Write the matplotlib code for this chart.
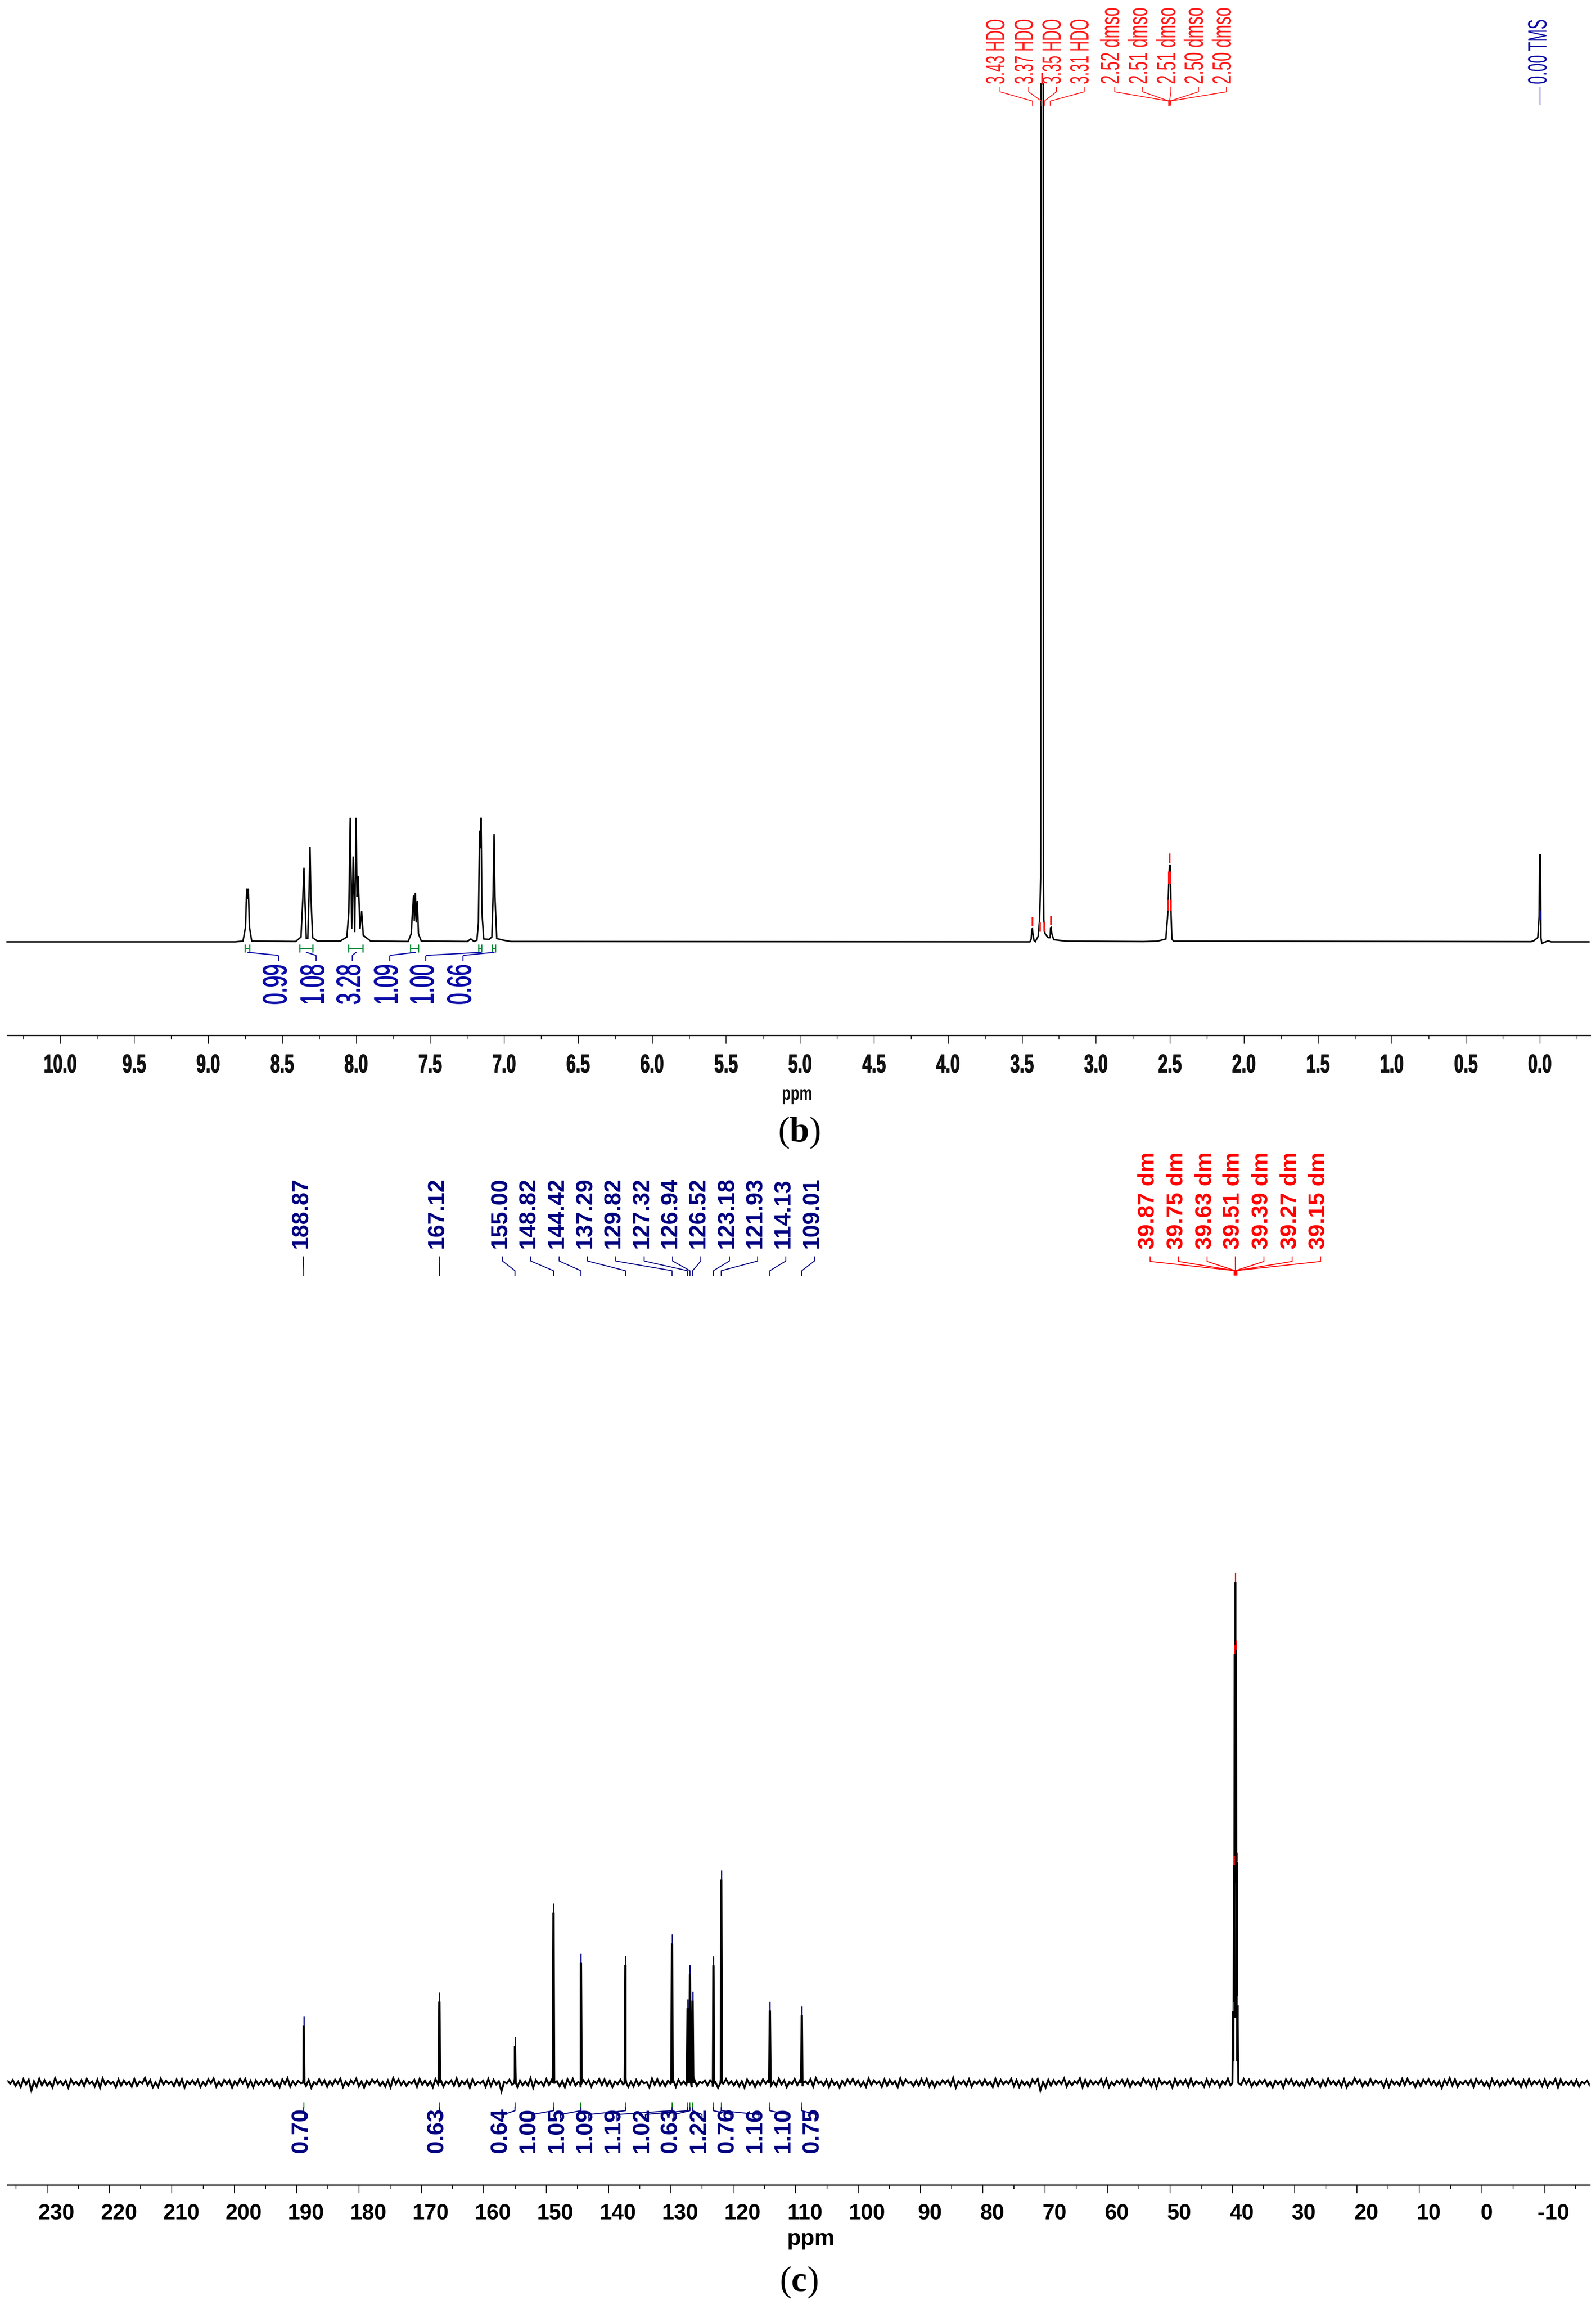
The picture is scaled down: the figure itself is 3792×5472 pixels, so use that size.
import numpy as np
import matplotlib
matplotlib.use("Agg")
import matplotlib.pyplot as plt
from matplotlib.path import Path
from matplotlib.patheffects import AbstractPathEffect
from matplotlib.transforms import Affine2D, IdentityTransform, Bbox

plt.rcParams['mathtext.fontset'] = 'custom'
plt.rcParams['mathtext.rm'] = 'Liberation Serif'
plt.rcParams['mathtext.bf'] = 'Liberation Serif:bold'

# ---------- panel b: 1H spectrum, vertices ----------
h1_ppm = [10.36, 8.818, 8.766, 8.749, 8.741, 8.736, 8.730, 8.722, 8.707, 8.410, 8.374, 8.361, 8.354, 8.348,
          8.338, 8.328, 8.320, 8.313, 8.307, 8.295, 8.263, 8.108, 8.064, 8.051, 8.041, 8.031, 8.021, 8.011,
          8.002, 7.995, 7.988, 7.975, 7.964, 7.953, 7.903, 7.650, 7.629, 7.621, 7.613, 7.608, 7.601, 7.595,
          7.588, 7.580, 7.561, 7.250, 7.226, 7.205, 7.185, 7.175, 7.167, 7.162, 7.157, 7.151, 7.139, 7.103,
          7.084, 7.076, 7.069, 7.063, 7.051, 7.005, 6.956, 3.448, 3.439, 3.435, 3.431, 3.428, 3.420, 3.411,
          3.392, 3.382, 3.375, 3.373, 3.358, 3.356, 3.354, 3.346, 3.325, 3.311, 3.308, 3.304, 3.300, 3.287,
          3.202, 2.680, 2.586, 2.529, 2.515, 2.508, 2.504, 2.498, 2.494, 2.488, 2.477, 0.060, 0.040, 0.015,
          0.006, 0.003, -0.003, -0.006, -0.012, -0.030, -0.055, -0.075, -0.33]
h1_int = [0.00, 0.00, 0.09, 1.69, 6.20, 5.00, 6.20, 1.69, 0.09, 0.04, 0.56, 5.26, 8.64, 5.26,
          0.38, 0.38, 5.26, 11.08, 5.26, 0.47, 0.09, 0.09, 0.56, 3.38, 14.46, 1.50, 9.95, 1.13,
          14.46, 5.26, 7.70, 1.50, 3.57, 0.75, 0.09, 0.04, 0.94, 3.38, 5.41, 2.44, 5.73, 2.25,
          4.79, 0.94, 0.09, 0.04, 0.34, 0.04, 0.19, 2.25, 12.96, 10.90, 14.46, 3.38, 0.34, 0.28,
          0.56, 5.26, 12.55, 5.26, 0.38, 0.19, 0.04, 0.00, 0.33, 1.47, 1.55, 0.98, 0.16, 0.03,
          0.65, 2.60, 7.50, 100.0, 100.0, 7.50, 2.60, 0.98, 0.49, 0.49, 1.64, 1.68, 0.98, 0.25,
          0.08, 0.03, 0.08, 0.33, 3.44, 7.50, 8.92, 8.92, 3.44, 0.33, 0.08, 0.02, 0.15, 0.50,
          3.00, 10.17, 10.17, 0.50, -0.20, -0.05, 0.12, 0.00, 0.00]

h1_ticks = [10.0, 9.5, 9.0, 8.5, 8.0, 7.5, 7.0, 6.5, 6.0, 5.5, 5.0, 4.5, 4.0, 3.5, 3.0, 2.5, 2.0, 1.5, 1.0, 0.5, 0.0]
h1_minor = [10.25, 9.75, 9.25, 8.75, 8.25, 7.75, 7.25, 6.75, 6.25, 5.75, 5.25, 4.75, 4.25, 3.75, 3.25, 2.75,
            2.25, 1.75, 1.25, 0.75, 0.25, -0.25]

h1_hdo_labels = ["3.43 HDO", "3.37 HDO", "3.35 HDO", "3.31 HDO"]
h1_hdo_ppm = [3.43, 3.37, 3.35, 3.31]
h1_dmso_labels = ["2.52 dmso", "2.51 dmso", "2.51 dmso", "2.50 dmso", "2.50 dmso"]
h1_dmso_ppm = [2.510, 2.507, 2.504, 2.502, 2.499]
h1_tms_label = "0.00 TMS"
h1_tms_ppm = 0.0

h1_int_labels = ["0.99", "1.08", "3.28", "1.09", "1.00", "0.66"]
h1_int_from = [8.754, 8.382, 8.052, 7.635, 7.175, 7.084]
h1_int_to = [8.721, 8.296, 7.956, 7.581, 7.153, 7.059]
h1_int_anchor = [8.732, 8.337, 8.002, 7.601, 7.157, 7.069]

# red / blue peak picks sitting on the 1H peaks: ppm, lower and upper intensity
h1_pick_ppm = [3.431, 3.305, 3.380, 3.352, 3.366, 2.504, 2.498, 2.510, 2.494, 2.514]
h1_pick_lo = [1.86, 1.96, 1.18, 1.18, 100.0, 9.20, 6.70, 6.70, 3.60, 3.60]
h1_pick_hi = [2.90, 3.04, 2.26, 2.26, 101.3, 10.30, 8.20, 8.20, 4.90, 4.90]

# ---------- panel c: 13C spectrum ----------
c13_labels = ["188.87", "167.12", "155.00", "148.82", "144.42", "137.29", "129.82", "127.32", "126.94", "126.52",
              "123.18", "121.93", "114.13", "109.01"]
c13_ppm = [188.87, 167.12, 155.00, 148.82, 144.42, 137.29, 129.82, 127.32, 126.94, 126.52, 123.18, 121.93,
           114.13, 109.01]
c13_int = [11.34, 16.07, 7.13, 33.80, 23.90, 23.36, 27.67, 14.76, 21.59, 16.26, 23.28, 40.44, 14.27, 13.33]
c13_integrals = ["0.70", "0.63", "0.64", "1.00", "1.05", "1.09", "1.19", "1.02", "0.63", "1.22", "0.76", "1.16",
                 "1.10", "0.75"]

sol_labels = ["39.87 dm", "39.75 dm", "39.63 dm", "39.51 dm", "39.39 dm", "39.27 dm", "39.15 dm"]
sol_ppm = [39.87, 39.75, 39.63, 39.51, 39.39, 39.27, 39.15]
sol_int = [14.25, 43.50, 85.60, 100.0, 86.50, 44.10, 15.50]
sol_valley_ppm = [39.98, 39.81, 39.69, 39.57, 39.45, 39.33, 39.21, 39.04]
sol_valley_int = [0.00, 4.40, 13.0, 40.0, 40.0, 13.0, 4.40, 0.00]

c13_ticks = [230, 220, 210, 200, 190, 180, 170, 160, 150, 140, 130, 120, 110, 100, 90, 80, 70, 60, 50, 40, 30, 20,
             10, 0, -10]
c13_minor = [235, 225, 215, 205, 195, 185, 175, 165, 155, 145, 135, 125, 115, 105, 95, 85, 75, 65, 55, 45, 35, 25,
             15, 5, -5, -15]

# baseline noise of panel c, left to right, in hundredths of intensity:
# the upward excursions and the downward excursions of the trace
c13_noise_up = [
 41, 56, 24, 73, 63, 31, 83, 51, 16, 95, 37, 44, 68, 21, 52, 80, 29, 63, 88, 39, 19, 69, 47, 24, 77,
 28, 99, 53, 12, 84, 44, 24, 65, 75, 35, 49, 57, 15, 73, 88, 23, 59, 51, 33, 81, 77, 40, 47, 27, 65,
 60, 19, 69, 92, 32, 41, 76, 57, 15, 72, 48, 36, 64, 83, 25, 52, 85, 29, 39, 67, 55, 20, 45, 97, 71,
 37, 21, 61, 80, 45, 31, 76, 59, 25, 49, 87, 36, 55, 67, 17, 43, 79, 61, 32, 20, 64, 84, 48, 28, 93,
 53, 23, 75, 60, 33, 40, 72, 81, 17, 51, 56, 35, 79, 69, 44, 27, 63, 89, 24, 57, 47, 16, 87, 73, 37,
 43, 59, 63, 29, 85, 68, 21, 51, 53, 13, 77, 76, 32, 41, 33, 65, 39, 35, 71, 57, 24, 83, 49, 19, 80,
 52, 31, 73, 96, 27, 56, 61, 20, 40, 68, 77, 45, 23, 84, 49, 28, 69, 59, 36, 91, 64, 16, 45, 75, 81,
 37, 25, 52, 55, 99, 32, 44, 71, 25, 48, 65, 20, 81, 60, 35, 80, 55, 39, 23, 67, 76, 16, 61, 51, 41,
 88, 29, 33, 93, 57, 47, 28, 72, 75, 19, 43, 64, 63, 36, 21, 87, 53, 51, 72, 27, 37, 79, 47, 57, 84,
 33, 15, 69, 65, 40, 31, 88, 56, 21, 77, 63, 24, 48, 59, 20, 44, 32, 68, 73, 35, 17, 52, 83, 27, 53,
 85, 39, 40, 67, 17, 92, 61, 28, 73, 49, 32, 60, 49, 24, 79, 80, 20, 43, 64, 71, 36, 35, 55, 95, 69,
 20, 45, 59, 81, 47, 25, 76, 41, 31, 60, 85, 29, 52, 75, 37, 48, 65, 23, 77, 67, 27, 39, 56, 19, 44,
]
c13_noise_down = [
 -16, -59, -81, -31, -157, -76, -47, -55, -88, -20, -39, -93, -25, -48, -64, -12, -69, -96, -36, -19, -84, -55, -27, -73, -61,
 -8, -44, -85, -77, -32, -15, -65, -49, -91, -23, -33, -79, -53, -7, -72, -57, -21, -93, -41, -9, -67, -87, -35, -51, -17,
 -63, -83, -25, -75, -43, -5, -61, -95, -28, -37, -76, -47, -13, -80, -52, -17, -67, -91, -32, -4, -57, -71, -89, -21, -40,
 -59, -11, -79, -36, -49, -84, -28, -71, -15, -56, -65, -23, -92, -45, -8, -75, -60, -29, -167, -9, -35, -80, -45, -53, -96,
 -20, -64, -40, -13, -69, -85, -33, -52, -89, -19, -73, -12, -43, -60, -81, -24, -29, -77, -68, -48, -7, -88, -37, -55, -63,
 -16, -76, -27, -39, -87, -59, -5, -47, -72, -97, -17, -24, -51, -67, -92, -36, -80, -41, -11, -56, -61, -31, -84, -21, -44,
 -68, -20, -72, -8, -53, -81, -32, -91, -49, -15, -35, -64, -75, -40, -13, -77, -57, -25, -87, -44, -4, -64, -51, -28, -69,
 -85, -35, -12, -52, -93, -23, -57, -73, -17, -48, -37, -81, -61, -28, -16, -63, -79, -41, -75, -11, -153, -91, -55, -32, -21,
 -71, -47, -8, -85, -67, -31, -25, -60, -83, -45, -13, -55, -79, -36, -52, -7, -65, -95, -24, -19, -89, -43, -33, -71, -56,
 -12, -73, -59, -19, -83, -29, -49, -77, -39, -21, -68, -48, -9, -61, -88, -27, -92, -15, -43, -63, -76, -40, -16, -80, -57,
 -24, -47, -69, -87, -33, -5, -67, -53, -36, -9, -80, -76, -29, -53, -45, -20, -84, -64, -17, -40, -60, -96, -27, -51, -72,
 -23, -39, -75, -13, -59, -87, -35, -69, -49, -12, -31, -81, -65, -44, -20, -63, -77, -25, -88, -41, -32, -56, -72, -11, -48,
]

# ---------- layout, in pixels of the output image ----------
W, H = 3792, 5472
DPI = 100
FS = 72.0 / DPI       # points per pixel

BLUE_B, RED_B, GREEN_B = '#0a0aa8', '#ff1a1a', '#109040'
NAVY, RED, GREEN = '#000080', '#ff0000', '#008000'
SANS = ['Liberation Sans']


class Condense(AbstractPathEffect):
    """Draws a text squeezed/stretched on screen (the reference font is a very narrow, tall one)."""

    def __init__(self, sx=1.0, sy=1.0, anchor='center', stroke=0.0):
        super().__init__()
        self.sx, self.sy, self.anchor, self.stroke = sx, sy, anchor, stroke

    def draw_path(self, renderer, gc, tpath, affine, rgbFace=None):
        v = affine.transform(tpath.vertices)
        cx0 = 0.5 * (v[:, 0].min() + v[:, 0].max())
        cy0 = v[:, 1].min() if self.anchor == 'bottom' else 0.5 * (v[:, 1].min() + v[:, 1].max())
        out = np.column_stack([cx0 + (v[:, 0] - cx0) * self.sx, cy0 + (v[:, 1] - cy0) * self.sy])
        gc0 = renderer.new_gc()
        gc0.copy_properties(gc)
        if self.stroke > 0:
            gc0.set_foreground(rgbFace)
            gc0.set_linewidth(self.stroke * FS)
        renderer.draw_path(gc0, Path(out, tpath.codes), IdentityTransform(), rgbFace)
        gc0.restore()


def condense(t, sx=1.0, sy=1.0, anchor='center', stroke=0.0):
    t.set_path_effects([Condense(sx, sy, anchor, stroke)])
    orig = t.get_window_extent

    def extent(renderer=None, dpi=None):
        b = orig(renderer, dpi)
        xc = 0.5 * (b.x0 + b.x1)
        yc = b.y0 if anchor == 'bottom' else 0.5 * (b.y0 + b.y1)
        return Bbox([[xc + (b.x0 - xc) * sx, yc + (b.y0 - yc) * sy],
                     [xc + (b.x1 - xc) * sx, yc + (b.y1 - yc) * sy]])

    t.get_window_extent = extent
    return t


def bx(px):
    return 10 - (np.asarray(px, float) - 143.5) / 351.55


def by(py):
    return (2237 - np.asarray(py, float)) / 2038 * 100


def cx(px):
    return 230 - (np.asarray(px, float) - 112) / 14.82


def cy(py):
    return (4947 - np.asarray(py, float)) / 1189 * 100


def px_of_bx(p):
    return 143.5 + (10 - p) * 351.55


fig = plt.figure(figsize=(W / DPI, H / DPI), dpi=DPI, facecolor='white')


def make_axes(left, right, top, bottom):
    ax = fig.add_axes([left / W, 1 - bottom / H, (right - left) / W, (bottom - top) / H])
    ax.patch.set_alpha(0)
    for s in ['top', 'left', 'right']:
        ax.spines[s].set_visible(False)
    ax.spines['bottom'].set_linewidth(3 * FS)
    ax.spines['bottom'].set_color('#111111')
    ax.set_yticks([])
    return ax


# ================= panel b =================
axb = make_axes(17, 3778, 0, 2459)
axb.set_xlim(bx(17), bx(3778))
axb.set_ylim(by(2459), by(0))
axb.plot(h1_ppm, h1_int, color='black', lw=3.5 * FS, solid_joinstyle='miter', clip_on=False, zorder=2)
axb.set_xticks(h1_ticks, [f"{t:.1f}" for t in h1_ticks])
axb.set_xticks(h1_minor, minor=True)
axb.tick_params(axis='x', which='major', length=20 * FS, width=2 * FS, color='#222222', pad=24 * FS)
axb.tick_params(axis='x', which='minor', length=10 * FS, width=2 * FS, color='#222222')
for lab in axb.get_xticklabels():
    lab.set_family(SANS)
    lab.set_fontweight('bold')
    lab.set_fontsize(61 * FS)
    lab.set_color('#111111')
    condense(lab, sx=0.66, stroke=1.5)

# red picks on peaks
axb.vlines(h1_pick_ppm, h1_pick_lo, h1_pick_hi, color=RED_B, lw=4 * FS, zorder=3)
axb.vlines([h1_tms_ppm], [2.5], [3.6], color=BLUE_B, lw=4 * FS, zorder=3)

# top annotation of the 1H peaks
hdo_label_px = [2368, 2436, 2502, 2568]
dmso_label_px = [2640.5, 2707, 2774, 2839.5, 2906]
for lab, p, lx in zip(h1_hdo_labels + h1_dmso_labels, h1_hdo_ppm + h1_dmso_ppm, hdo_label_px + dmso_label_px):
    t = axb.text(bx(lx), by(200), lab, rotation=90, ha='center', va='bottom', color=RED_B, family=SANS,
                 fontsize=42 * FS, clip_on=False)
    condense(t, sx=1.5, sy=0.83 if 'HDO' in lab else 0.93, anchor='bottom')
    tx = lx + 8
    axb.plot([bx(tx), bx(tx), p, p], by([207, 218, 240, 250]), color=RED_B, lw=2 * FS, clip_on=False)
t = axb.text(bx(3656), by(200), h1_tms_label, rotation=90, ha='center', va='bottom', color=BLUE_B, family=SANS,
             fontsize=42 * FS, clip_on=False)
condense(t, sx=1.5, sy=0.85, anchor='bottom')
axb.vlines([h1_tms_ppm], by(250), by(207), color=BLUE_B, lw=2 * FS)
axb.vlines([h1_dmso_ppm[2]], by(250), by(238), color=RED_B, lw=6 * FS)

# integrals of panel b
int_label_px = [660, 749, 835, 924, 1009.5, 1098]
for lab, a, b, anch, lx in zip(h1_int_labels, h1_int_from, h1_int_to, h1_int_anchor, int_label_px):
    t = axb.text(bx(lx), by(2386), lab, rotation=90, ha='center', va='bottom', color=BLUE_B, family=SANS,
                 fontsize=80 * FS, clip_on=False)
    condense(t, sy=0.615, anchor='bottom', stroke=1.5)
    axb.vlines([a, b], by(2262), by(2243), color=GREEN_B, lw=3 * FS)
    axb.hlines(by(2253), b, a, color=GREEN_B, lw=2.5 * FS)
    ex = lx + 2
    axb.plot([anch, bx(ex + (px_of_bx(anch) - ex) * 0.02), bx(ex), bx(ex)], by([2262, 2269, 2271, 2281]),
             color=BLUE_B, lw=2.5 * FS, clip_on=False)

t = axb.text(bx(1894), by(2600), 'ppm', ha='center', va='center', family=SANS, fontweight='bold',
             fontsize=48 * FS, color='#111111', clip_on=False)
condense(t, sx=0.71)
axb.text(bx(1898), by(2691), r'($\mathbf{b}$)', ha='center', va='center', family=['Liberation Serif'],
         fontsize=84 * FS, color='black', clip_on=False)

# ================= panel c =================
axc = make_axes(18, 3777, 2700, 5189)
axc.set_xlim(cx(18), cx(3777))
axc.set_ylim(cy(5189), cy(2700))

noise_ppm = np.linspace(float(cx(18)), float(cx(3777)), len(c13_noise_up) + len(c13_noise_down))
noise_int = np.column_stack([c13_noise_up, c13_noise_down]).ravel() / 100.0
keep = (noise_ppm > 40.05) | (noise_ppm < 39.0)
xs = [noise_ppm[keep]]
ys = [noise_int[keep]]
for p, h in zip(c13_ppm, c13_int):
    xs.append([p + 0.14, p + 0.03, p - 0.03, p - 0.14])
    ys.append([0.0, h, h, 0.0])
xs.append(sol_ppm)
ys.append(sol_int)
xs.append(sol_valley_ppm)
ys.append(sol_valley_int)
all_x = np.concatenate(xs)
all_y = np.concatenate(ys)
order = np.argsort(-all_x)
axc.plot(all_x[order], all_y[order], color='black', lw=4.5 * FS, solid_joinstyle='miter', clip_on=True, zorder=2)

axc.set_xticks(c13_ticks, [str(t) for t in c13_ticks])
axc.set_xticks(c13_minor, minor=True)
axc.tick_params(axis='x', which='major', length=20 * FS, width=2 * FS, color='black', pad=24 * FS)
axc.tick_params(axis='x', which='minor', length=10 * FS, width=2 * FS, color='black')
for lab, t in zip(axc.get_xticklabels(), c13_ticks):
    lab.set_family(SANS)
    lab.set_fontweight('bold')
    lab.set_fontsize(52 * FS)
    dx = 12 if t == 0 else 22
    lab.set_transform(lab.get_transform() + Affine2D().translate(dx, 0))

# blue peak marks above the peaks
mark_lo = [h + 0.15 for h in c13_int]
mark_hi = [h + 2.0 for h in c13_int]
axc.vlines(c13_ppm, mark_lo, mark_hi, color=NAVY, lw=3 * FS, zorder=3)
# red marks above the solvent lines
sol_lo = [h + 0.1 for h in sol_int]
sol_hi = [h + 1.9 for h in sol_int]
axc.vlines(sol_ppm, sol_lo, sol_hi, color=RED, lw=3 * FS, zorder=3)

# annotation columns of panel c
col_px = [721, 1043.7, 1194, 1261, 1328.5, 1396, 1463, 1530.5, 1598, 1665, 1733, 1800, 1867, 1935]
label_shift = 5
for lab, integ, p, lx in zip(c13_labels, c13_integrals, c13_ppm, col_px):
    xl = lx - label_shift
    axc.text(cx(xl), cy(2965), lab, rotation=90, ha='center', va='bottom', color=NAVY, family=SANS,
             fontweight='bold', fontsize=55 * FS, clip_on=False)
    axc.plot([cx(lx), cx(lx), p, p], cy([2985, 2995, 3018, 3029]), color=NAVY, lw=2.2 * FS, clip_on=False)
    axc.text(cx(xl), cy(5113), integ, rotation=90, ha='center', va='bottom', color=NAVY, family=SANS,
             fontweight='bold', fontsize=55 * FS, clip_on=False, zorder=4)
    axc.vlines([p], cy(5006), cy(4993), color=GREEN, lw=2.5 * FS)
    axc.plot([p, p, cx(lx + 3), cx(lx + 3)], cy([5006, 5013, 5022, 5030]), color=NAVY, lw=2.5 * FS,
             clip_on=False, zorder=5)

sol_col_px = [2732.6, 2800, 2868, 2935, 3003, 3070, 3137.5]
for lab, p, lx in zip(sol_labels, sol_ppm, sol_col_px):
    axc.text(cx(lx - 5), cy(2967), lab, rotation=90, ha='center', va='bottom', color=RED, family=SANS,
             fontweight='bold', fontsize=54 * FS, clip_on=False)
    axc.plot([cx(lx), cx(lx), sol_ppm[3]], cy([2985, 2996, 3018]), color=RED, lw=2.2 * FS, clip_on=False)
axc.vlines([sol_ppm[3]], cy(3029), cy(3017), color=RED, lw=9 * FS)

axc.text(cx(1926), cy(5318), 'ppm', ha='center', va='center', family=SANS, fontweight='bold',
         fontsize=54 * FS, color='black', clip_on=False)
axc.text(cx(1898), cy(5421), r'($\mathbf{c}$)', ha='center', va='center', family=['Liberation Serif'],
         fontsize=84 * FS, color='black', clip_on=False)

fig.savefig('out.png', dpi=DPI, facecolor='white')
